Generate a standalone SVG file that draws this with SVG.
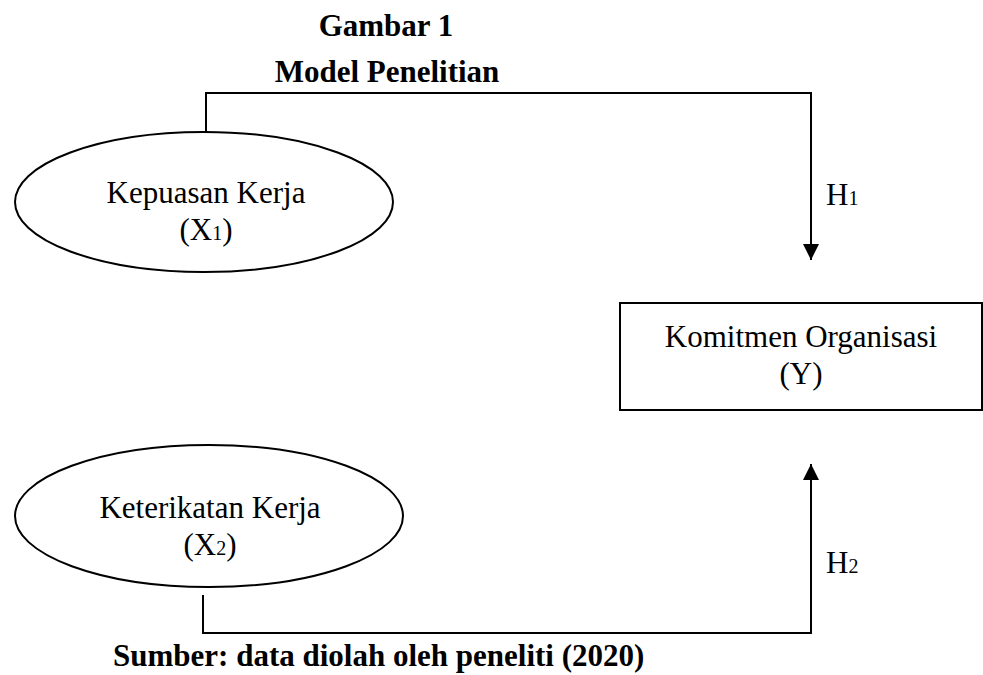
<svg xmlns="http://www.w3.org/2000/svg" width="983" height="675" viewBox="0 0 983 675">
<style>
  .t { font-family: "Liberation Serif", "Times New Roman", serif; font-size: 31px; fill: #000; }
  .b { font-family: "Liberation Serif", "Times New Roman", serif; font-size: 31px; font-weight: bold; fill: #000; }
  .s { font-size: 20px; }
  .shape { fill: #fff; stroke: #000; stroke-width: 2; }
  .line { fill: none; stroke: #000; stroke-width: 2; }
</style>
<defs>
  <marker id="ah" viewBox="0 0 16 16" refX="16" refY="8" markerWidth="16" markerHeight="16" markerUnits="userSpaceOnUse" orient="auto">
    <path d="M0,0 L16,8 L0,16 Z" fill="#000"/>
  </marker>
</defs>
<rect width="983" height="675" fill="#fff"/>
<g id="title">
  <text class="b" x="386" y="36" text-anchor="middle">Gambar 1</text>
  <text class="b" x="387" y="82" text-anchor="middle">Model Penelitian</text>
</g>
<g id="connectors">
  <path class="line" d="M206 132 V93 H811 V260" marker-end="url(#ah)"/>
  <path class="line" d="M203 595 V633 H811 V464" marker-end="url(#ah)"/>
  <text class="t" x="826" y="205">H<tspan class="s">1</tspan></text>
  <text class="t" x="826" y="573">H<tspan class="s">2</tspan></text>
</g>
<g id="x1">
  <ellipse class="shape" cx="204" cy="202" rx="189" ry="70"/>
  <text class="t" x="206" y="203" text-anchor="middle">Kepuasan Kerja</text>
  <text class="t" x="206" y="240" text-anchor="middle">(X<tspan class="s">1</tspan>)</text>
</g>
<g id="x2">
  <ellipse class="shape" cx="209" cy="516" rx="194" ry="71"/>
  <text class="t" x="210" y="518" text-anchor="middle">Keterikatan Kerja</text>
  <text class="t" x="210" y="555" text-anchor="middle">(X<tspan class="s">2</tspan>)</text>
</g>
<g id="y">
  <rect class="shape" x="620" y="303" width="362" height="107"/>
  <text class="t" x="801" y="347" text-anchor="middle">Komitmen Organisasi</text>
  <text class="t" x="801" y="384" text-anchor="middle">(Y)</text>
</g>
<g id="source">
  <text class="b" x="113" y="666">Sumber: data diolah oleh peneliti (2020)</text>
</g>
</svg>
